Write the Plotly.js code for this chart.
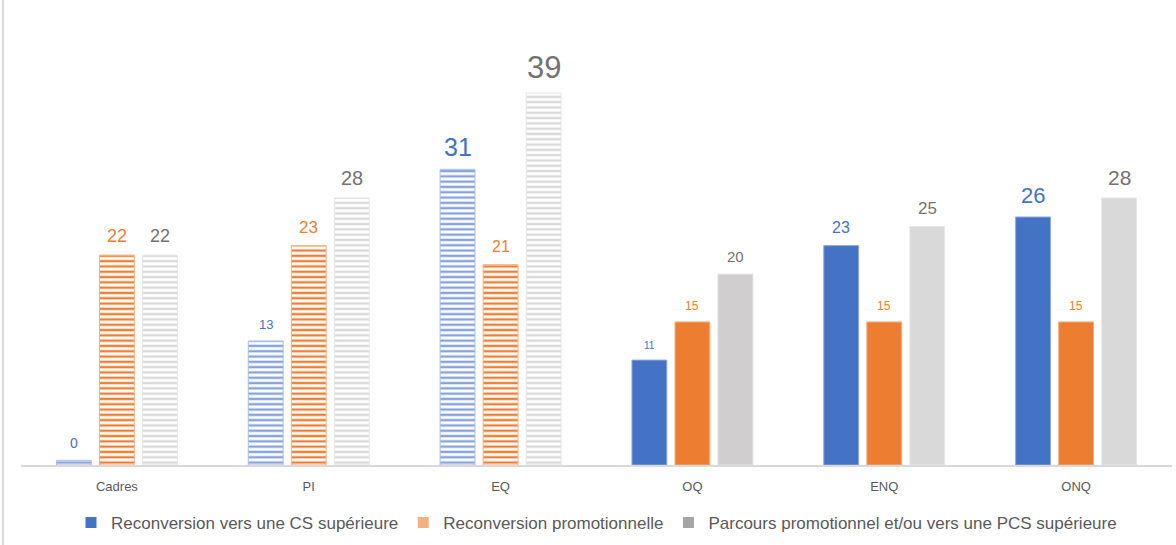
<!DOCTYPE html>
<html>
<head>
<meta charset="utf-8">
<script src="https://cdn.plot.ly/plotly-3.0.1.min.js"></script>
<style>
html,body{margin:0;padding:0;background:#fff;}
#chart{width:1176px;height:545px;}
</style>
</head>
<body>
<div id="chart"></div>
<script>
// ---- data ----
const categories = ['Cadres', 'PI', 'EQ', 'OQ', 'ENQ', 'ONQ'];
const seriesNames = [
  'Reconversion vers une CS supérieure',
  'Reconversion promotionnelle',
  'Parcours promotionnel et/ou vers une PCS supérieure'
];
const reconversionCS = [0.49, 13, 31, 11, 23, 26];
const reconversionPromo = [22, 23, 21, 15, 15, 15];
const parcoursPromo = [22, 28, 39, 20, 25, 28];

// ---- styles ----
const patternShapes = ['-', '-', '-', '', '', ''];
const styles = [
  {
    fill: ['#86A3DC', '#86A3DC', '#86A3DC', '#4472C4', '#4472C4', '#4472C4'],
    line: ['#A9BDE6', '#A9BDE6', '#A9BDE6', '#8FAADC', '#8FAADC', '#8FAADC'],
    text: '#4472C4',
    sizes: [14, 13, 25, 10, 16, 22],
    legend: '#4472C4'
  },
  {
    fill: ['#EE8035', '#EE8035', '#EE8035', '#ED7D31', '#ED7D31', '#ED7D31'],
    line: ['#F4B183', '#F4B183', '#F4B183', '#F4B183', '#F4B183', '#F4B183'],
    text: '#ED7D31',
    sizes: [18, 17, 16, 12, 12, 12],
    legend: '#F4B183'
  },
  {
    fill: ['#D9D9D9', '#D9D9D9', '#D9D9D9', '#D0CECE', '#D9D9D9', '#D9D9D9'],
    line: ['#E7E7E7', '#E7E7E7', '#E7E7E7', '#E0DEDE', '#E7E7E7', '#E7E7E7'],
    text: '#767171',
    sizes: [18, 20, 31, 15, 17, 21],
    legend: '#A5A5A5'
  }
];
const seriesValues = [reconversionCS, reconversionPromo, parcoursPromo];

const margin = { l: 21, r: 4, t: 20, b: 80 };
const W = 1176, H = 545;
const bargap = 0.327, bargroupgap = 0.19;

const traces = [];
seriesValues.forEach(function (vals, i) {
  const s = styles[i];
  traces.push({
    type: 'bar',
    name: seriesNames[i],
    x: categories,
    y: vals,
    showlegend: false,
    cliponaxis: false,
    hoverinfo: 'none',
    marker: {
      color: s.fill,
      line: { color: s.line, width: 1 },
      pattern: {
        shape: patternShapes,
        fgcolor: s.fill,
        bgcolor: '#FFFFFF',
        size: 5.3,
        solidity: 0.45,
        fillmode: 'replace'
      }
    }
  });
});
// legend entries
seriesNames.forEach(function (name, i) {
  traces.push({
    type: 'scatter',
    mode: 'markers',
    name: name,
    x: [null],
    y: [null],
    showlegend: true,
    hoverinfo: 'none',
    marker: { symbol: 'square', size: 11, color: styles[i].legend }
  });
});

// data labels, positioned through the axes (category + value) with group offset
const plotW = W - margin.l - margin.r;
const slot = plotW / categories.length;
const traceSlot = slot * (1 - bargap) / seriesValues.length;
const annotations = [];
seriesValues.forEach(function (vals, i) {
  const s = styles[i];
  vals.forEach(function (v, j) {
    const fs = s.sizes[j];
    annotations.push({
      xref: 'x', yref: 'y',
      x: categories[j], y: v,
      text: String(Math.round(v)),
      showarrow: false,
      xanchor: 'center', yanchor: 'middle',
      xshift: (i - (seriesValues.length - 1) / 2) * traceSlot,
      yshift: 0.5 * fs + 10,
      font: { size: fs, color: s.text, family: 'Liberation Sans, Arial, sans-serif' }
    });
  });
});

const layout = {
  width: W,
  height: H,
  margin: margin,
  paper_bgcolor: '#FFFFFF',
  plot_bgcolor: '#FFFFFF',
  barmode: 'group',
  bargap: bargap,
  bargroupgap: bargroupgap,
  font: { family: 'Liberation Sans, Arial, sans-serif', color: '#595959' },
  xaxis: {
    type: 'category',
    showline: true,
    linecolor: '#D9D9D9',
    linewidth: 1.5,
    showgrid: false,
    zeroline: false,
    ticks: '',
    ticklabelstandoff: 9,
    tickfont: { size: 13, color: '#595959' }
  },
  yaxis: {
    range: [0, 46.65],
    visible: false,
    showgrid: false,
    zeroline: false,
    fixedrange: true
  },
  showlegend: true,
  legend: {
    orientation: 'h',
    x: 0.5,
    xanchor: 'center',
    y: -0.13,
    yanchor: 'middle',
    font: { size: 17, color: '#595959' },
    itemwidth: 30,
    traceorder: 'normal'
  },
  annotations: annotations,
  shapes: [
    {
      type: 'line', xref: 'paper', yref: 'paper',
      x0: -0.0156, x1: -0.0156, y0: -0.18, y1: 1.045,
      line: { color: '#D9D9D9', width: 2 }
    }
  ]
};

Plotly.newPlot('chart', traces, layout, { displayModeBar: false, staticPlot: true });
</script>
</body>
</html>
